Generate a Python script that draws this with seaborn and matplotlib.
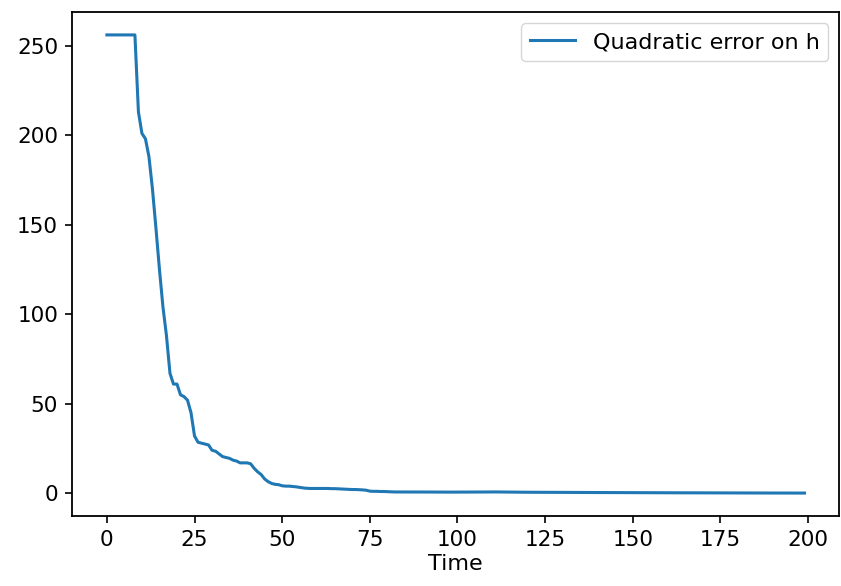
import matplotlib
matplotlib.use("Agg")
import matplotlib.pyplot as plt
import seaborn as sns
import pandas as pd

error_values = [
    256, 256, 256, 256, 256, 256, 256, 256, 256, 213,
    201, 198, 188, 170, 148, 125, 104, 88, 67, 61,
    61, 55, 54, 52, 45, 32, 28.5, 28, 27.5, 27,
    24, 23.5, 22, 20.5, 20, 19.5, 18.5, 18, 17, 17,
    17, 16.5, 14, 12, 10.5, 8, 6.5, 5.5, 5, 4.8,
    4.2, 4, 4, 3.8, 3.6, 3.3, 3, 2.8, 2.7, 2.7,
    2.7, 2.7, 2.7, 2.7, 2.6, 2.6, 2.5, 2.4, 2.3, 2.2,
    2.1, 2.1, 2.0, 1.9, 1.7, 1.2, 1.1, 1.1, 1.0, 1.0,
    0.9, 0.8, 0.75, 0.75, 0.72, 0.72, 0.7, 0.7, 0.7, 0.7,
    0.7, 0.7, 0.7, 0.7, 0.68, 0.68, 0.68, 0.68, 0.66, 0.66,
    0.66, 0.66, 0.66, 0.66, 0.66, 0.66, 0.7, 0.72, 0.74, 0.75,
    0.76, 0.76, 0.75, 0.74, 0.72, 0.7, 0.66, 0.62, 0.6, 0.6,
    0.58, 0.58, 0.56, 0.56, 0.55, 0.55, 0.54, 0.54, 0.52, 0.52,
    0.5, 0.5, 0.5, 0.48, 0.48, 0.47, 0.46, 0.45, 0.45, 0.44,
    0.43, 0.42, 0.42, 0.41, 0.4, 0.4, 0.39, 0.38, 0.38, 0.37,
    0.36, 0.36, 0.35, 0.34, 0.34, 0.33, 0.33, 0.32, 0.31, 0.31,
    0.3, 0.3, 0.29, 0.28, 0.28, 0.27, 0.27, 0.26, 0.26, 0.25,
    0.25, 0.24, 0.24, 0.23, 0.23, 0.22, 0.22, 0.21, 0.21, 0.2,
    0.2, 0.19, 0.19, 0.18, 0.18, 0.18, 0.17, 0.17, 0.16, 0.16,
    0.16, 0.15, 0.15, 0.15, 0.14, 0.14, 0.14, 0.13, 0.13, 0.13,
]
time_steps = list(range(len(error_values)))
series_label = "Quadratic error on h"
x_label = "Time"

plt.rcParams["font.family"] = ["DejaVu Sans"]
plt.rcParams["font.size"] = 15.5

fig = plt.figure(figsize=(8.41, 5.86), dpi=100)
ax = fig.add_axes([0.0856, 0.1195, 0.9125, 0.8600])

df = pd.DataFrame({"Time": time_steps, "err": error_values})
sns.lineplot(data=df, x="Time", y="err", ax=ax, color="#1f77b4",
             linewidth=2.2, label=series_label)

ax.set_xlabel(x_label, fontsize=16, labelpad=3)
ax.set_ylabel("")
ax.set_xticks([0, 25, 50, 75, 100, 125, 150, 175, 200])
ax.set_yticks([0, 50, 100, 150, 200, 250])
ax.tick_params(labelsize=15.5, length=5, width=1.2, pad=5)
for s in ax.spines.values():
    s.set_linewidth(1.3)
ax.legend(loc="upper right", fontsize=16, frameon=True)

fig.savefig("out.png", dpi=100)
